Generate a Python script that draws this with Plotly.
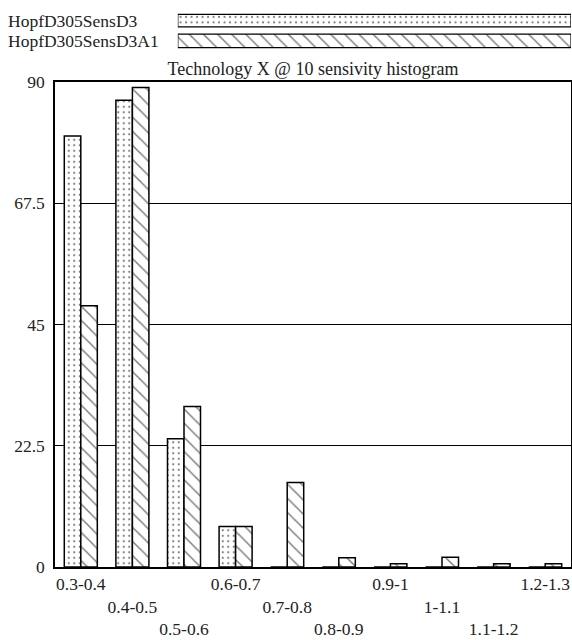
import plotly.graph_objects as go

categories = ["0.3-0.4", "0.4-0.5", "0.5-0.6", "0.6-0.7", "0.7-0.8",
              "0.8-0.9", "0.9-1", "1-1.1", "1.1-1.2", "1.2-1.3"]
series_names = ["HopfD305SensD3", "HopfD305SensD3A1"]
d3_values = [80, 86.6, 23.8, 7.5, 0, 0, 0, 0, 0, 0]
a1_values = [48.5, 89, 29.8, 7.5, 15.7, 1.7, 0.6, 1.8, 0.6, 0.6]
y_tick_vals = [0, 22.5, 45, 67.5, 90]
y_tick_text = ["0", "22.5", "45", "67.5", "90"]
title_text = "Technology X @ 10 sensivity histogram"

FONT = "Liberation Serif"
TXT = "#222222"
FS = 17.5

# staggered tick labels (3 rows)
x_tick_text = ["<br>" * (i % 3) + c for i, c in enumerate(categories)]

dot_pattern = dict(shape=".", fgcolor="black", bgcolor="white", size=5.5, solidity=0.12)
hatch_pattern = dict(shape="\\", fgcolor="black", bgcolor="white", size=10, solidity=0.15)

fig = go.Figure()
fig.add_trace(go.Bar(
    x=categories, y=d3_values, name=series_names[0],
    marker=dict(color="white", pattern=dot_pattern, line=dict(color="black", width=1.5)),
    xaxis="x", yaxis="y", showlegend=False,
))
fig.add_trace(go.Bar(
    x=categories, y=a1_values, name=series_names[1],
    marker=dict(color="white", pattern=hatch_pattern, line=dict(color="black", width=1.5)),
    xaxis="x", yaxis="y", showlegend=False,
))

# legend drawn as a small horizontal-bar panel on top
fig.add_trace(go.Bar(
    y=[series_names[0]], x=[1], orientation="h", width=0.62,
    marker=dict(color="white", pattern=dot_pattern, line=dict(color="black", width=1.2)),
    xaxis="x2", yaxis="y2", showlegend=False, hoverinfo="skip",
))
fig.add_trace(go.Bar(
    y=[series_names[1]], x=[1], orientation="h", width=0.66,
    marker=dict(color="white", pattern=hatch_pattern, line=dict(color="black", width=1.2)),
    xaxis="x2", yaxis="y2", showlegend=False, hoverinfo="skip",
))

annotations = []
for n in series_names:
    annotations.append(dict(
        text=n, x=-0.095, xref="paper", xanchor="left",
        y=n, yref="y2", yanchor="middle", showarrow=False,
        font=dict(family=FONT, size=FS, color=TXT),
    ))

fig.update_layout(
    width=572, height=640,
    margin=dict(l=55, r=1, t=8, b=73, autoexpand=False),
    paper_bgcolor="white", plot_bgcolor="white",
    barmode="group", bargap=0.36, bargroupgap=0,
    font=dict(family=FONT, size=FS, color=TXT),
    title=dict(text=title_text, x=0.5, xref="paper", xanchor="center",
               y=1 - 68.5 / 640, yref="container", yanchor="middle",
               font=dict(family=FONT, size=18, color=TXT), automargin=False),
    xaxis=dict(
        domain=[0, 1], anchor="y", automargin=False, tickangle=0,
        tickmode="array", tickvals=categories, ticktext=x_tick_text,
        showline=True, mirror=True, linecolor="black", linewidth=1.5,
        ticks="", showgrid=False, ticklabelstandoff=0,
        tickfont=dict(family=FONT, size=FS, color=TXT),
    ),
    yaxis=dict(
        domain=[0, 0.8676], anchor="x", automargin=False,
        range=[0, 90], tickmode="array", tickvals=y_tick_vals, ticktext=y_tick_text,
        showline=True, mirror=True, linecolor="black", linewidth=1.5,
        showgrid=True, gridcolor="black", gridwidth=1.2,
        ticks="", ticklabelstandoff=5, zeroline=False,
        tickfont=dict(family=FONT, size=FS, color=TXT),
    ),
    xaxis2=dict(
        domain=[0.238, 1], anchor="y2", range=[0, 1], automargin=False,
        showticklabels=False, showgrid=False, zeroline=False, showline=False, ticks="",
    ),
    yaxis2=dict(
        domain=[0.9197, 0.9989], anchor="x2", automargin=False,
        categoryorder="array", categoryarray=series_names, autorange="reversed",
        showticklabels=False, showgrid=False, zeroline=False, showline=False, ticks="",
    ),
    annotations=annotations,
)

fig.write_html("out.html", config={"displayModeBar": False},
               post_script="document.body.style.margin='0';")
